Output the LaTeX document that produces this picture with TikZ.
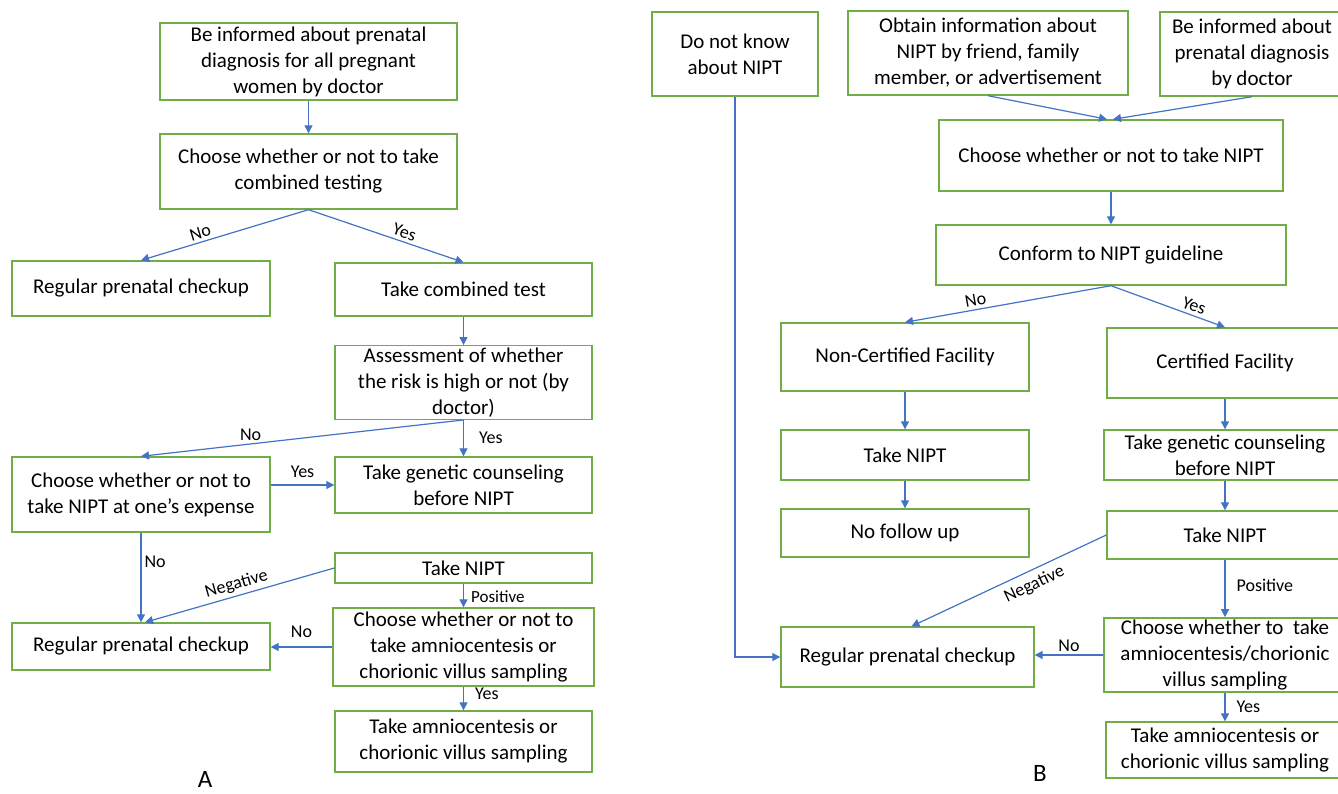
\documentclass[tikz,border=0pt]{standalone}
\usepackage{fontspec}
\setmainfont{Carlito}
\usetikzlibrary{arrows.meta}
\definecolor{boxgreen}{HTML}{70AD47}
\definecolor{arrowblue}{HTML}{4472C4}
\tikzset{
  box/.style={draw=boxgreen, line width=0.7pt, align=center, inner sep=1pt,
    font=\fontsize{10.5}{13}\selectfont},
  conn/.style={draw=arrowblue, line width=0.6pt, -{Triangle[length=4pt,width=4pt]}},
  lbl/.style={font=\fontsize{9}{10}\selectfont, text=black, inner sep=1.5pt},
  slbl/.style={font=\fontsize{8.5}{9}\selectfont, text=black, inner sep=1.5pt},
  panel/.style={font=\fontsize{12.5}{14}\selectfont, inner sep=1pt}
}
\begin{document}
\begin{tikzpicture}[x=0.5pt,y=-0.5pt]
\useasboundingbox (0,0) rectangle (1338,793);
\clip (0,0) rectangle (1338,793);
% ---------- Panel A ----------
\node[box, minimum width=148.5pt, minimum height=38.5pt] (a1) at (308.5,61.5) {Be informed about prenatal\\diagnosis for all pregnant\\women by doctor};
\node[box, minimum width=148.5pt, minimum height=37.5pt] (a2) at (308.5,171.5) {Choose whether or not to take\\combined testing};
\node[box, minimum width=129pt, minimum height=27.5pt] (a3) at (141,288.5) {Regular prenatal checkup};
\node[box, minimum width=128.5pt, minimum height=26.5pt] (a4) at (463.5,289.5) {Take combined test};
\node[box, minimum width=128.5pt, minimum height=36.5pt] (a5) at (463.5,382.5) {Assessment of whether\\the risk is high or not (by\\doctor)};
\node[box, minimum width=129pt, minimum height=37.5pt] (a6) at (141,494.5) {Choose whether or not to\\take NIPT at one’s expense};
\node[box, minimum width=128.5pt, minimum height=28pt] (a7) at (463.5,485) {Take genetic counseling\\before NIPT};
\node[box, minimum width=128.5pt, minimum height=15pt] (a8) at (463.5,568) {Take NIPT};
\node[box, minimum width=130.5pt, minimum height=39pt] (a9) at (463.5,647) {Choose whether or not to\\take amniocentesis or\\chorionic villus sampling};
\node[box, minimum width=129pt, minimum height=23.5pt] (a10) at (141,646.5) {Regular prenatal checkup};
\node[box, minimum width=128.5pt, minimum height=30.5pt] (a11) at (463.5,741.5) {Take amniocentesis or\\chorionic villus sampling};
\node[panel] (la) at (205,779) {A};

\draw[conn] (a1.south) -- (a2.north);
\draw[conn] (a2.south) -- node[lbl, sloped, above, pos=0.63] {No} (a3.north);
\draw[conn] (a2.south) -- node[lbl, sloped, above, pos=0.6] {Yes} (a4.north);
\draw[conn] (a4.south) -- (a5.north);
\draw[conn] (a5.south) -- node[lbl, above, pos=0.66] {No} (a6.north);
\draw[conn] (a5.south) -- node[lbl, right=6pt, pos=0.5] {Yes} (a7.north);
\draw[conn] (a6.east |- a7.west) -- node[lbl, above=2pt, pos=0.5] {Yes} (a7.west);
\draw[conn] (a6.south) -- node[lbl, right, pos=0.33] {No} (a10.north);
\draw[conn] (a8.west) -- node[lbl, sloped, above, pos=0.5] {Negative} ([xshift=2pt]a10.north);
\draw[conn] (a8.south) -- node[slbl, right=2pt, pos=0.55] {Positive} (a9.north);
\draw[conn] (a9.west) -- node[lbl, above=3pt, pos=0.5] {No} (a9.west -| a10.east);
\draw[conn] (a9.south) -- node[lbl, right=4pt, pos=0.3] {Yes} (a11.north);

% ---------- Panel B ----------
\node[box, minimum width=83pt, minimum height=42pt] (b1) at (735,54) {Do not know\\about NIPT};
\node[box, minimum width=140pt, minimum height=42pt] (b2) at (988,53) {Obtain information about\\NIPT by friend, family\\member, or advertisement};
\node[box, minimum width=92pt, minimum height=42pt] (b3) at (1252,54) {Be informed about\\prenatal diagnosis\\by doctor};
\node[box, minimum width=172pt, minimum height=35.5pt] (b4) at (1111,155.5) {Choose whether or not to take NIPT};
\node[box, minimum width=175pt, minimum height=30pt] (b5) at (1111,255) {Conform to NIPT guideline};
\node[box, minimum width=124pt, minimum height=34pt] (b6) at (905,357) {Non-Certified Facility};
\node[box, minimum width=118pt, minimum height=35pt] (b7) at (1225,363) {Certified Facility};
\node[box, minimum width=124pt, minimum height=25pt] (b8) at (905,455) {Take NIPT};
\node[box, minimum width=124pt, minimum height=24pt] (b9) at (905,533) {No follow up};
\node[box, minimum width=121pt, minimum height=25pt] (b10) at (1225,455) {Take genetic counseling\\before NIPT};
\node[box, minimum width=118pt, minimum height=24pt] (b11) at (1225,535) {Take NIPT};
\node[box, minimum width=126.5pt, minimum height=30pt] (b12) at (907.5,657) {Regular prenatal checkup};
\node[box, minimum width=121pt, minimum height=35pt] (b13) at (1225,655) {Choose whether to\ \ take\\amniocentesis/chorionic\\villus sampling};
\node[box, minimum width=119pt, minimum height=28pt] (b14) at (1225,750) {Take amniocentesis or\\chorionic villus sampling};
\node[panel] (lb) at (1040,773) {B};

\draw[conn] (b1.south) |- (b12.west);
\draw[conn] (b2.south) -- ([xshift=-2pt]b4.north);
\draw[conn] (b3.south) -- ([xshift=1pt]b4.north);
\draw[conn] (b4.south) -- (b5.north);
\draw[conn] (b5.south) -- node[lbl, sloped, above, pos=0.65] {No} (b6.north);
\draw[conn] (b5.south) -- node[lbl, sloped, above, pos=0.7] {Yes} (b7.north);
\draw[conn] (b6.south) -- (b8.north);
\draw[conn] (b8.south) -- (b9.north);
\draw[conn] (b7.south) -- (b10.north);
\draw[conn] (b10.south) -- (b11.north);
\draw[conn] (b11.west) -- node[lbl, sloped, below=1.5pt, pos=0.4] {Negative} ([xshift=2pt]b12.north);
\draw[conn] (b11.south) -- node[lbl, right=4pt, pos=0.45] {Positive} (b13.north);
\draw[conn] (b13.west) -- node[lbl, above, pos=0.5] {No} (b13.west -| b12.east);
\draw[conn] (b13.south) -- node[lbl, right=4pt, pos=0.5] {Yes} (b14.north);
\end{tikzpicture}
\end{document}
